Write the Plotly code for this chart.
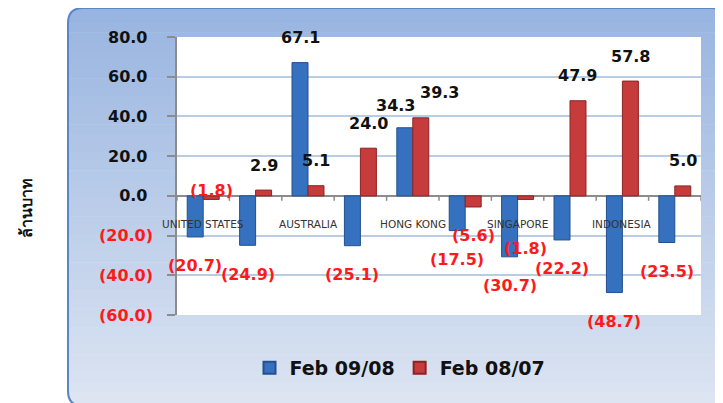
import plotly.graph_objects as go

# ---- data ----
tick_labels = ["UNITED STATES", "", "AUSTRALIA", "", "HONG KONG", "", "SINGAPORE", "", "INDONESIA", ""]
series_names = ["Feb 09/08", "Feb 08/07"]
feb_09_08 = [-20.7, -24.9, 67.1, -25.1, 34.3, -17.5, -30.7, -22.2, -48.7, -23.5]
feb_08_07 = [-1.8, 2.9, 5.1, 24.0, 39.3, -5.6, -1.8, 47.9, 57.8, 5.0]
y_ticks = [80, 60, 40, 20, 0, -20, -40, -60]
y_title = "ล้านบาท"

# ---- layout geometry (pixels, page coords; page body has an 8px offset) ----
OFF = 8
W, H = 723 - OFF, 403 - OFF
PL, PR, PT, PB = 177 - OFF, 701 - OFF, 37 - OFF, 315 - OFF
ML, MR, MT, MB = PL, W - PR, PT, H - PB


def px_x(px):
    return (px - OFF - PL) / (PR - PL)


def px_y(py):
    return (PB - (py - OFF)) / (PB - PT)


def fmt(v):
    return f"({abs(v):.1f})" if v < 0 else f"{v:.1f}"


xs = list(range(len(tick_labels)))
BLUE = "#3571BE"
RED = "#C63B3B"

fig = go.Figure()
fig.add_bar(x=xs, y=feb_09_08, name=series_names[0],
            marker=dict(color=BLUE, line=dict(color="#22508F", width=1)))
fig.add_bar(x=xs, y=feb_08_07, name=series_names[1],
            marker=dict(color=RED, line=dict(color="#8E2222", width=1)))

# manual label nudges (series index, category index) -> (xshift px, yshift px)
label_nudge = {(1, 0): (0, 9), (1, 6): (0, -49), (0, 4): (-9, 22), (1, 4): (19, 25)}
bar_w = 0.305
FONT = "DejaVu Sans"
for si, vals in enumerate([feb_09_08, feb_08_07]):
    off = -bar_w / 2 if si == 0 else bar_w / 2
    for i, v in enumerate(vals):
        dx, dy = label_nudge.get((si, i), (0, 25 if v >= 0 else -29))
        fig.add_annotation(x=i + off, y=v, text=fmt(v), showarrow=False,
                           xshift=dx, yshift=dy, xref="x", yref="y",
                           font=dict(family=FONT, size=16,
                                     color="#111111" if v >= 0 else "#FF1A1A",
                                     weight="bold"))

# category labels placed just below the zero line
for i, t in enumerate(tick_labels):
    if t:
        fig.add_annotation(x=i, y=0, text=t, showarrow=False, yshift=-28,
                           xref="x", yref="y",
                           font=dict(family=FONT, size=10.5, color="#333333"))

# y-axis title
fig.add_annotation(x=px_x(26), y=px_y(208), xref="paper", yref="paper",
                   xanchor="center", yanchor="middle",
                   text=y_title, textangle=-90, showarrow=False,
                   font=dict(family="Noto Sans", size=16, color="#111111", weight="bold"))

# ---- background panel with gradient ----
shapes = []
x0p, x1p, y0p, y1p, r = 68, 726, 8, 406, 15
top_c = (0x98, 0xB4, 0xE0)
bot_c = (0xDD, 0xE5, 0xF2)


def mix(t):
    return "rgb(%d,%d,%d)" % tuple(round(a + (b - a) * t) for a, b in zip(top_c, bot_c))


def P(px, py):
    return f"{px_x(px):.5f},{px_y(py):.5f}"


shapes.append(dict(type="path", xref="paper", yref="paper", layer="below",
                   path=f"M {P(x0p, y0p + r)} Q {P(x0p, y0p)} {P(x0p + r, y0p)} L {P(x1p - r, y0p)} "
                        f"Q {P(x1p, y0p)} {P(x1p, y0p + r)} L {P(x1p, y0p + r + 1)} L {P(x0p, y0p + r + 1)} Z",
                   fillcolor=mix(0), line=dict(width=0)))
shapes.append(dict(type="path", xref="paper", yref="paper", layer="below",
                   path=f"M {P(x0p, y1p - r - 1)} L {P(x1p, y1p - r - 1)} L {P(x1p, y1p - r)} "
                        f"Q {P(x1p, y1p)} {P(x1p - r, y1p)} L {P(x0p + r, y1p)} Q {P(x0p, y1p)} {P(x0p, y1p - r)} Z",
                   fillcolor=mix(1), line=dict(width=0)))
N = 40
band_top, band_bot = y0p + r, y1p - r
for k in range(N):
    a = band_top + (band_bot - band_top) * k / N
    b = band_top + (band_bot - band_top) * (k + 1) / N + 0.6
    t = ((a + b) / 2 - y0p) / (y1p - y0p)
    shapes.append(dict(type="rect", xref="paper", yref="paper", layer="below",
                       x0=px_x(x0p), x1=px_x(x1p), y0=px_y(b), y1=px_y(a),
                       fillcolor=mix(t), line=dict(width=0)))
shapes.append(dict(type="path", xref="paper", yref="paper", layer="below",
                   path=f"M {P(x0p, y0p + r)} Q {P(x0p, y0p)} {P(x0p + r, y0p)} L {P(x1p - r, y0p)} "
                        f"Q {P(x1p, y0p)} {P(x1p, y0p + r)} L {P(x1p, y1p - r)} Q {P(x1p, y1p)} {P(x1p - r, y1p)} "
                        f"L {P(x0p + r, y1p)} Q {P(x0p, y1p)} {P(x0p, y1p - r)} Z",
                   fillcolor="rgba(0,0,0,0)", line=dict(color="#5A86C6", width=2)))
# white plot area
shapes.append(dict(type="rect", xref="paper", yref="paper", layer="below",
                   x0=0, x1=1, y0=0, y1=1, fillcolor="white", line=dict(width=0)))
# tick marks on zero line at category boundaries
for i in range(len(tick_labels) + 1):
    shapes.append(dict(type="line", xref="x", yref="y", x0=i - 0.5, x1=i - 0.5,
                       y0=0, y1=-2.5, line=dict(color="#8C8C8C", width=1.5)))

y_ticktext = []
for v in y_ticks:
    if v < 0:
        y_ticktext.append(f"<span style='color:#FF1A1A'>({abs(v):.1f})</span>")
    else:
        y_ticktext.append(f"{v:.1f}\u00a0")

fig.update_layout(
    width=W, height=H,
    margin=dict(l=ML, r=MR, t=MT, b=MB, pad=0),
    paper_bgcolor="white", plot_bgcolor="rgba(0,0,0,0)",
    barmode="group", bargap=0.39, bargroupgap=0,
    shapes=shapes,
    showlegend=True,
    legend=dict(orientation="h", x=px_x(400), y=px_y(368), xanchor="center", yanchor="middle",
                font=dict(family=FONT, size=19, color="#111111", weight="bold"),
                bgcolor="rgba(0,0,0,0)", itemsizing="constant", tracegroupgap=0),
    xaxis=dict(range=[-0.5, len(tick_labels) - 0.5], showticklabels=False, showgrid=False,
               zeroline=False, showline=False, ticks=""),
    yaxis=dict(range=[-60, 80], tickvals=y_ticks, ticktext=y_ticktext,
               showgrid=True, gridcolor="#B8CCE4", gridwidth=1.5,
               zeroline=True, zerolinecolor="#8C8C8C", zerolinewidth=1.5,
               showline=True, linecolor="#8C8C8C", linewidth=1.5,
               ticks="outside", ticklen=8, tickcolor="#8C8C8C", tickwidth=1.5,
               ticklabelstandoff=11,
               tickfont=dict(family=FONT, size=16, color="#111111", weight="bold")),
)

fig.write_html("out.html")
